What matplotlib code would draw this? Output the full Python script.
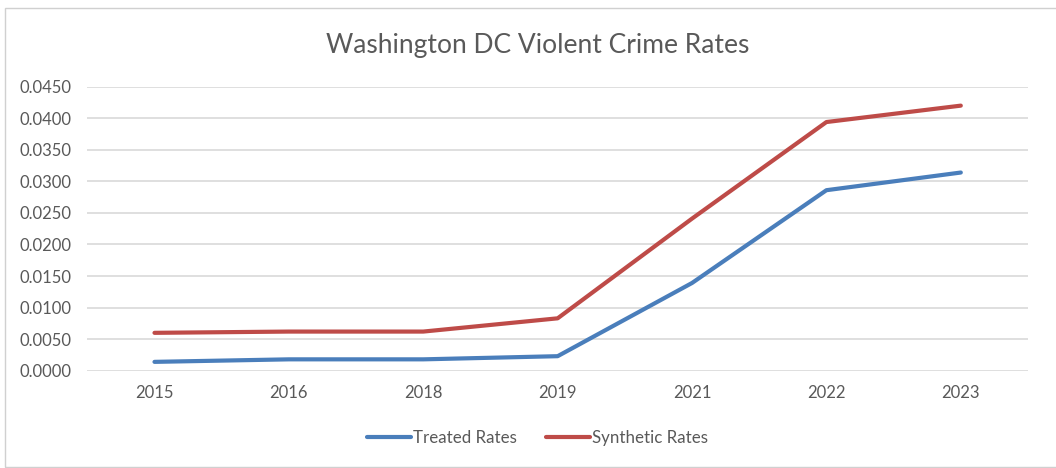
import matplotlib
matplotlib.use("Agg")
import matplotlib.pyplot as plt
from matplotlib.patches import Rectangle
from matplotlib.lines import Line2D

years = ["2015", "2016", "2018", "2019", "2021", "2022", "2023"]
treated_rates = [0.0014, 0.0018, 0.0018, 0.0023, 0.0139, 0.0286, 0.0314]
synthetic_rates = [0.0060, 0.0062, 0.0062, 0.0083, 0.0241, 0.0394, 0.0420]
y_ticks = [0.0, 0.005, 0.01, 0.015, 0.02, 0.025, 0.03, 0.035, 0.04, 0.045]

W, H = 1056, 468
plt.rcParams["font.family"] = ["Lato", "DejaVu Sans"]
text_color = "#595959"
blue = "#4A7EBB"
red = "#BE4B48"
grid_color = "#D9D9D9"

fig = plt.figure(figsize=(W / 100, H / 100), dpi=100)
fig.patch.set_facecolor("white")

# chart-area frame
fig.add_artist(Rectangle((4.5 / W, 1 - 467 / H), (1070 - 4.5) / W, (467 - 7.5) / H,
                         transform=fig.transFigure, fill=False,
                         edgecolor="#D0D0D0", linewidth=1.0))

left, right, top, bottom = 87.3, 1028, 86.7, 370.7
ax = fig.add_axes([left / W, 1 - bottom / H, (right - left) / W, (bottom - top) / H])

x = list(range(len(years)))
ax.plot(x, treated_rates, color=blue, linewidth=3.0, solid_capstyle="round",
        solid_joinstyle="round", label="Treated Rates", zorder=3)
ax.plot(x, synthetic_rates, color=red, linewidth=3.0, solid_capstyle="round",
        solid_joinstyle="round", label="Synthetic Rates", zorder=3)

ax.set_xlim(-0.5, len(years) - 0.5)
ax.set_ylim(0, 0.045)
ax.set_yticks(y_ticks)
ax.set_yticklabels([f"{v:.4f}" for v in y_ticks])
ax.set_xticks(x)
ax.set_xticklabels(years)
ax.tick_params(axis="both", length=0, labelsize=12, labelcolor=text_color)
ax.tick_params(axis="y", pad=11.5)
ax.tick_params(axis="x", pad=10)
ax.grid(axis="y", color=grid_color, linewidth=1.2)
ax.set_axisbelow(True)
for s in ax.spines.values():
    s.set_visible(False)

fig.text(538 / W, 1 - 45 / H, "Washington DC Violent Crime Rates",
         ha="center", va="center", fontsize=19, color=text_color)

handles = [Line2D([], [], color=blue, linewidth=3.0, solid_capstyle="round"),
           Line2D([], [], color=red, linewidth=3.0, solid_capstyle="round")]
fig.legend(handles, ["Treated Rates", "Synthetic Rates"], loc="center",
           bbox_to_anchor=(537.5 / W, 1 - 438 / H), ncol=2, frameon=False,
           fontsize=12.2, labelcolor=text_color, handlelength=2.6,
           handletextpad=0.15, columnspacing=1.7)

fig.savefig("out.png", dpi=100, facecolor="white")
